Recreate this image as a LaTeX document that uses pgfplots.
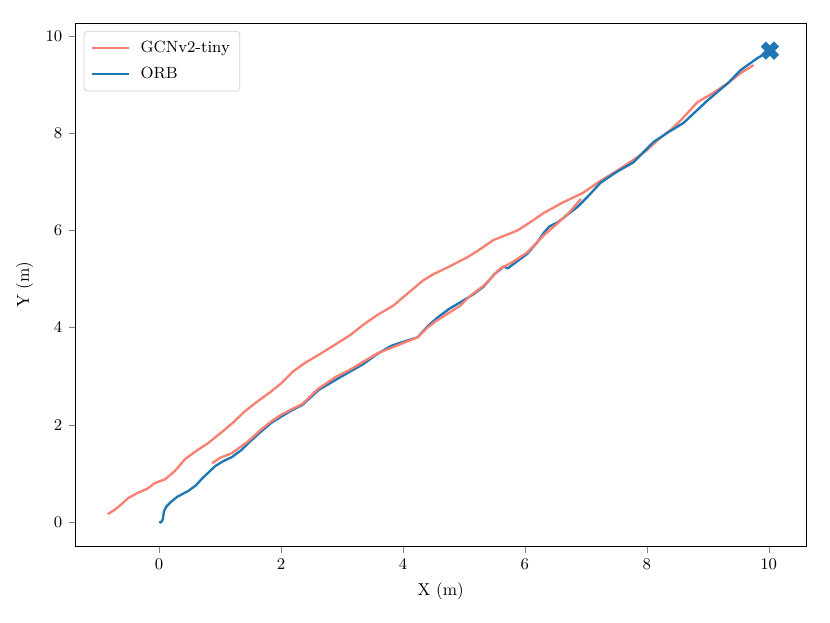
\documentclass[border=0pt]{standalone}
\usepackage{pgfplots}
\pgfplotsset{compat=1.18}
\definecolor{salmon}{HTML}{FA8072}
\definecolor{tabblue}{HTML}{1F77B4}
\begin{document}
\begin{tikzpicture}
\begin{axis}[
  scale only axis, width=405pt, height=290pt,
  xmin=-1.38, xmax=10.62, ymin=-0.51, ymax=10.27,
  xtick={0,2,4,6,8,10}, ytick={0,2,4,6,8,10},
  tick align=outside, xtick pos=bottom, ytick pos=left,
  major tick length=3.5pt,
  tick label style={font=\small},
  label style={font=\fontsize{9.5}{11}\selectfont},
  xlabel={X (m)}, ylabel={Y (m)},
  legend style={at={(0.012,0.985)}, anchor=north west, draw=black!18, rounded corners=2pt, row sep=2.5pt, inner sep=3.5pt, font=\fontsize{9}{11}\selectfont,
    /tikz/every odd column/.append style={column sep=4pt}},
  legend image post style={xscale=1.2},
  legend cell align=left,
]
\addplot[salmon, line width=1.3pt, line join=round] coordinates {
(-0.84,0.16)(-0.72,0.26)(-0.62,0.36)(-0.51,0.49)(-0.35,0.60)(-0.20,0.68)(-0.07,0.80)(0.10,0.88)(0.26,1.05)(0.43,1.30)(0.62,1.47)(0.80,1.62)(1.00,1.82)(1.20,2.03)(1.40,2.27)(1.58,2.45)(1.80,2.65)(2.00,2.85)(2.20,3.10)(2.40,3.28)(2.59,3.42)(2.85,3.62)(3.14,3.85)(3.35,4.06)(3.58,4.26)(3.84,4.45)(3.96,4.58)(4.15,4.78)(4.33,4.97)(4.50,5.10)(4.75,5.25)(5.06,5.45)(5.25,5.60)(5.48,5.80)(5.88,6.00)(6.10,6.18)(6.31,6.36)(6.63,6.58)(6.95,6.77)(7.24,7.02)(7.50,7.22)(7.78,7.45)(8.00,7.65)(8.18,7.86)(8.40,8.08)(8.56,8.27)(8.70,8.46)(8.83,8.64)(9.05,8.80)(9.33,9.03)(9.54,9.24)(9.75,9.40)
};
\addlegendentry{GCNv2-tiny}
\addplot[tabblue, line width=1.3pt, line join=round] coordinates {
(0,0)(0.03,-0.01)(0.06,0.05)(0.08,0.22)(0.12,0.32)(0.20,0.42)(0.30,0.52)(0.48,0.64)(0.60,0.75)(0.71,0.90)(0.92,1.15)(1.05,1.25)(1.20,1.34)(1.35,1.48)(1.46,1.62)(1.69,1.88)(1.85,2.05)(2.02,2.18)(2.15,2.28)(2.35,2.41)(2.50,2.58)(2.61,2.71)(2.89,2.92)(3.14,3.10)(3.35,3.25)(3.58,3.46)(3.80,3.62)(3.96,3.69)(4.24,3.80)(4.40,4.02)(4.56,4.20)(4.75,4.38)(4.94,4.52)(5.15,4.68)(5.32,4.84)(5.50,5.10)(5.60,5.20)(5.65,5.26)(5.72,5.22)(6.04,5.52)(6.20,5.75)(6.31,5.95)(6.40,6.08)(6.54,6.17)(6.86,6.48)(7.05,6.72)(7.24,6.98)(7.50,7.20)(7.78,7.40)(8.11,7.82)(8.35,8.02)(8.60,8.21)(9.00,8.68)(9.33,9.03)(9.54,9.30)(9.82,9.55)(10.0,9.68)
};
\addlegendentry{ORB}
\addplot[salmon, line width=1.3pt, line join=round, forget plot] coordinates {
(0.87,1.21)(1.00,1.32)(1.20,1.42)(1.46,1.66)(1.69,1.92)(1.85,2.08)(2.02,2.22)(2.35,2.43)(2.61,2.74)(2.89,2.98)(3.14,3.14)(3.58,3.47)(3.96,3.66)(4.24,3.80)(4.40,4.00)(4.56,4.15)(4.94,4.45)(5.10,4.65)(5.32,4.86)(5.60,5.22)(5.80,5.35)(6.04,5.55)(6.31,5.90)(6.54,6.15)(6.75,6.40)(6.92,6.65)
};
\addplot[tabblue, only marks, mark=x, mark size=5.2pt, line width=4pt, forget plot] coordinates {(10.02,9.70)};
\end{axis}
\path[use as bounding box] ([shift={(-41.5pt,-42pt)}]current axis.south west) rectangle ([shift={(13pt,12.7pt)}]current axis.north east);
\end{tikzpicture}
\end{document}
